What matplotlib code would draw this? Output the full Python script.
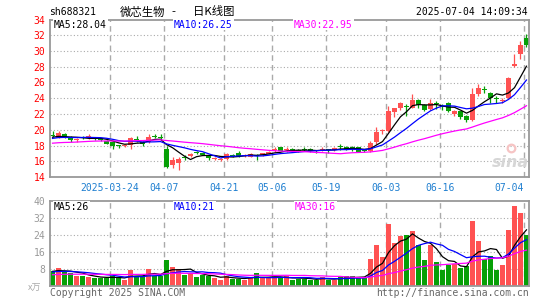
import matplotlib
matplotlib.use("Agg")
import matplotlib.pyplot as plt
import numpy as np
import pandas as pd

W, H = 545, 300

# trading days shown (2025-03-10 .. 2025-07-04)
dates = ["03-10", "03-11", "03-12", "03-13", "03-14", "03-17", "03-18", "03-19", "03-20", "03-21",
         "03-24", "03-25", "03-26", "03-27", "03-28", "03-31",
         "04-01", "04-02", "04-03", "04-07", "04-08", "04-09", "04-10", "04-11", "04-14", "04-15",
         "04-16", "04-17", "04-18", "04-21", "04-22", "04-23", "04-24", "04-25", "04-28", "04-29", "04-30",
         "05-06", "05-07", "05-08", "05-09", "05-12", "05-13", "05-14", "05-15", "05-16", "05-19",
         "05-20", "05-21", "05-22", "05-23", "05-26", "05-27", "05-28", "05-29", "05-30",
         "06-03", "06-04", "06-05", "06-06", "06-09", "06-10", "06-11", "06-12", "06-13", "06-16",
         "06-17", "06-18", "06-19", "06-20", "06-23", "06-24", "06-25", "06-26", "06-27", "06-30",
         "07-01", "07-02", "07-03", "07-04"]

opens = [19.30, 19.00, 19.50, 19.10, 18.75, 19.05, 18.90, 19.00, 18.85, 18.60,
         18.45, 18.00, 17.90, 18.05, 18.80, 18.45, 18.50, 19.15, 19.10, 17.55,
         15.50, 15.75, 16.50, 16.65, 17.15, 17.10, 16.65, 16.30, 16.20, 16.30,
         16.80, 17.05, 16.70, 16.60, 16.85, 16.75, 16.95, 17.40, 17.80, 17.45,
         17.60, 17.45, 17.60, 17.55, 17.35, 17.45, 17.50, 17.40, 17.85, 17.80,
         17.85, 17.80, 17.35, 17.30, 18.40, 19.80, 19.90, 22.30, 22.70, 23.05,
         22.80, 23.80, 23.10, 22.60, 23.35, 23.00, 23.45, 22.00, 22.35, 21.80,
         21.30, 24.60, 25.10, 24.70, 24.05, 23.75, 24.00, 28.05, 29.60, 31.60]
highs = [19.90, 19.80, 19.55, 19.15, 19.00, 19.20, 19.40, 19.05, 18.90, 18.70,
         18.55, 18.10, 18.15, 19.10, 19.25, 18.55, 19.50, 19.40, 19.50, 18.00,
         16.60, 16.60, 16.75, 17.00, 17.35, 17.20, 16.70, 16.55, 16.45, 17.00,
         16.90, 17.25, 16.95, 17.00, 16.90, 17.10, 17.30, 17.80, 17.80, 17.85,
         17.70, 17.60, 17.80, 17.70, 17.45, 17.80, 17.60, 17.80, 18.20, 17.95,
         18.00, 17.85, 17.50, 18.55, 20.30, 20.10, 23.00, 22.80, 23.50, 23.30,
         24.55, 23.90, 23.30, 23.95, 23.65, 23.30, 23.50, 22.50, 22.40, 21.90,
         25.30, 25.80, 25.50, 24.75, 24.30, 24.05, 26.75, 29.60, 31.30, 32.20]
lows = [19.05, 18.90, 18.90, 18.45, 18.50, 18.80, 18.80, 18.75, 18.60, 18.20,
        17.60, 17.70, 17.85, 17.50, 18.50, 17.95, 18.30, 18.90, 18.70, 15.10,
        15.20, 14.90, 16.15, 16.55, 16.90, 16.75, 16.15, 16.20, 16.05, 16.10,
        16.50, 16.60, 16.55, 16.50, 16.10, 16.65, 16.90, 17.15, 17.25, 17.20,
        17.25, 17.20, 17.30, 17.20, 17.10, 17.30, 17.00, 17.35, 17.40, 17.40,
        17.30, 17.15, 17.20, 17.20, 18.20, 19.45, 19.70, 21.60, 22.45, 21.75,
        22.70, 22.80, 22.40, 22.50, 22.60, 22.50, 22.30, 21.80, 21.35, 20.95,
        21.10, 24.30, 24.70, 23.40, 23.45, 23.45, 23.90, 27.95, 28.95, 30.50]
closes = [19.25, 19.55, 18.95, 18.65, 18.85, 18.95, 19.15, 18.90, 18.70, 18.25,
          17.95, 17.90, 18.00, 18.90, 18.70, 18.15, 19.05, 19.05, 19.05, 15.30,
          16.15, 16.30, 16.40, 16.95, 17.10, 16.85, 16.40, 16.40, 16.30, 16.90,
          16.70, 16.70, 16.80, 16.90, 16.65, 17.05, 17.20, 17.50, 17.30, 17.55,
          17.30, 17.40, 17.50, 17.30, 17.30, 17.50, 17.45, 17.70, 17.80, 17.50,
          17.75, 17.20, 17.30, 18.30, 19.75, 19.95, 22.40, 22.70, 23.45, 22.95,
          23.80, 23.10, 22.50, 23.40, 23.25, 22.85, 22.40, 22.35, 21.65, 21.30,
          24.60, 25.25, 25.00, 24.00, 23.95, 23.80, 26.60, 28.35, 30.80, 30.80]
# volume in 万手
volumes = [6.7, 8.3, 6.4, 5.9, 4.4, 4.4, 4.05, 3.6, 3.6, 3.6,
           4.4, 3.8, 2.5, 7.2, 4.4, 4.7, 7.7, 4.4, 4.7, 11.9,
           8.6, 7.7, 4.85, 5.8, 3.9, 5.2, 4.4, 3.6, 2.5, 4.7,
           3.3, 3.3, 2.8, 3.8, 5.8, 3.6, 3.6, 3.8, 3.6, 4.5,
           2.5, 3.3, 3.3, 2.8, 2.8, 4.0, 2.8, 2.8, 3.9, 4.4,
           4.7, 3.6, 3.6, 12.4, 19.4, 13.5, 28.9, 20.0, 23.3, 24.0,
           26.0, 19.0, 11.9, 19.0, 11.1, 7.2, 9.55, 10.1, 8.3, 9.4,
           30.4, 21.3, 12.4, 13.9, 7.2, 9.55, 26.5, 37.8, 34.2, 23.7]

# sessions before the visible window (only feed the moving averages)
prev_closes = [17.8, 17.9, 18.1, 17.9, 17.7, 17.8, 18.0, 18.2, 18.1, 17.9,
               18.0, 18.2, 18.1, 17.9, 18.0, 18.1, 18.2, 18.0, 17.9, 18.0,
               18.5, 18.7, 18.8, 18.9, 18.85, 19.0, 19.1, 18.9, 19.0]
prev_volumes = [4.2, 4.6, 4.4, 4.8, 4.1, 4.5, 4.3, 4.7, 4.4, 4.5,
                4.6, 4.2, 4.5, 4.3, 4.8, 4.4, 4.6, 4.3, 4.5, 4.4,
                5.8, 6.3, 6.0, 6.2, 6.2, 6.5, 7.0, 6.6, 6.7]

tick_days = ["03-24", "04-07", "04-21", "05-06", "05-19", "06-03", "06-16", "07-04"]
tick_labels = ["2025-03-24", "04-07", "04-21", "05-06", "05-19", "06-03", "06-16", "07-04"]

RED = "#ff5252"
GREEN = "#07a007"
GRID = "#aaaaaa"
MONO = "DejaVu Sans Mono"
CJK = ["Noto Sans CJK SC", "DejaVu Sans"]


def box(l, t, r, b):
    return [l / W, 1 - b / H, (r - l) / W, (b - t) / H]


def ftext(x, y, s, **kw):
    # place text by pixel position of the 545x300 canvas
    fig.text(x / W, 1 - y / H, s, va="center", **kw)


n = len(dates)
x = np.arange(n)
o = np.array(opens)
c = np.array(closes)
up = c >= o
colors = np.where(up, RED, GREEN)

# moving averages (use earlier sessions so the lines start at the left edge)
all_close = pd.Series(prev_closes + closes)
all_vol = pd.Series(prev_volumes + volumes)
ma = {k: all_close.rolling(k).mean().values[-n:] for k in (5, 10, 30)}
vma = {k: all_vol.rolling(k).mean().values[-n:] for k in (5, 10, 30)}
ma_colors = {5: "black", 10: "#0000ff", 30: "#ff00ff"}

tick_pos = [dates.index(d) - 0.42 for d in tick_days]

fig = plt.figure(figsize=(W / 100, H / 100), dpi=100)
ax1 = fig.add_axes(box(50, 19.5, 529, 177))
ax2 = fig.add_axes(box(50, 201, 529, 285.5))

# ---- price panel ----
for p in range(16, 34, 2):
    ax1.axhline(p, color=GRID, lw=0.8, ls=(0, (1, 2)), zorder=0)
for tp in tick_pos:
    ax1.axvline(tp, color=GRID, lw=1, ls=(0, (4, 3)), zorder=0)
    ax2.axvline(tp, color=GRID, lw=1, ls=(0, (4, 3)), zorder=0)

ax1.vlines(x, lows, highs, colors=colors, lw=0.9, zorder=2)
body_h = np.maximum(np.abs(c - o), 0.13)
body_bot = (o + c) / 2 - body_h / 2
ax1.bar(x, body_h, bottom=body_bot, width=0.82, color=colors, lw=0, zorder=2)
for k in (5, 10, 30):
    ax1.plot(x, ma[k], color=ma_colors[k], lw=0.9, zorder=3)

ax1.set_xlim(-0.42, n - 0.58)
ax1.set_ylim(14, 34)
ax1.set_yticks(range(14, 35, 2))
ax1.tick_params(axis="y", length=0, pad=3.5, labelcolor="#ff0000", labelsize=7)
ax1.set_xticks(tick_pos)
ax1.set_xticklabels(tick_labels)
ax1.tick_params(axis="x", length=0, pad=4, labelcolor="#1f7fd0", labelsize=7)
ax1.get_xticklabels()[-1].set_ha("right")
for lab in ax1.get_xticklabels() + ax1.get_yticklabels():
    lab.set_family(MONO)

leg_box = dict(facecolor="white", edgecolor="none", pad=0.6)
ftext(54, 24.5, "MA5:28.04", color="black", family=MONO, fontsize=7, bbox=leg_box)
ftext(174, 24.5, "MA10:26.25", color="#0000ff", family=MONO, fontsize=7, bbox=leg_box)
ftext(294, 24.5, "MA30:22.95", color="#ff00ff", family=MONO, fontsize=7, bbox=leg_box)

# watermark
ax1.text(0.962, 0.095, "sina", transform=ax1.transAxes, ha="center", va="center",
         fontsize=11.5, fontstyle="italic", fontweight="bold", color="#d6d6d6", zorder=1)
ax1.plot([0.962], [0.185], transform=ax1.transAxes, marker="o", ms=5.5, mfc="none",
         mec="#f6c4c4", mew=1.6, zorder=1)

# ---- volume panel ----
for v in (8, 16, 24, 32):
    ax2.axhline(v, color=GRID, lw=0.8, ls=(0, (1, 2)), zorder=0)
ax2.bar(x, volumes, width=0.82, color=colors, lw=0, zorder=2)
for k in (5, 10, 30):
    ax2.plot(x, vma[k], color=ma_colors[k], lw=0.9, zorder=3)
ax2.set_xlim(-0.42, n - 0.58)
ax2.set_ylim(0, 40)
ax2.set_yticks([8, 16, 24, 32, 40])
ax2.set_xticks([])
ax2.tick_params(axis="y", length=0, pad=3.5, labelcolor="#999999", labelsize=7)
for lab in ax2.get_yticklabels():
    lab.set_family(MONO)

ftext(54, 206.5, "MA5:26", color="black", family=MONO, fontsize=7, bbox=leg_box)
ftext(174, 206.5, "MA10:21", color="#0000ff", family=MONO, fontsize=7, bbox=leg_box)
ftext(295, 206.5, "MA30:16", color="#ff00ff", family=MONO, fontsize=7, bbox=leg_box)

for ax in (ax1, ax2):
    for s in ax.spines.values():
        s.set_color("#999999")
        s.set_linewidth(1.3)

# ---- header / footer texts ----
ftext(49, 12, "sh688321", color="black", family=MONO, fontsize=7)
ftext(120, 12, "微芯生物", color="black", family=CJK, fontsize=8.2)
ftext(171, 12, "-", color="black", family=CJK, fontsize=8.2)
ftext(193, 12, "日K线图", color="black", family=CJK, fontsize=8.2)
ftext(528, 12, "2025-07-04 14:09:34", color="black", family=MONO, fontsize=7, ha="right")
ftext(28, 288, "x万", color="#aaaaaa", family=CJK, fontsize=6.5)
ftext(50, 292.5, "Copyright 2025 SINA.COM", color="#666666", family=MONO, fontsize=7)
ftext(529, 292.5, "http://finance.sina.com.cn", color="#666666", family=MONO, fontsize=7, ha="right")

fig.savefig("out.png", dpi=100, facecolor="white")
